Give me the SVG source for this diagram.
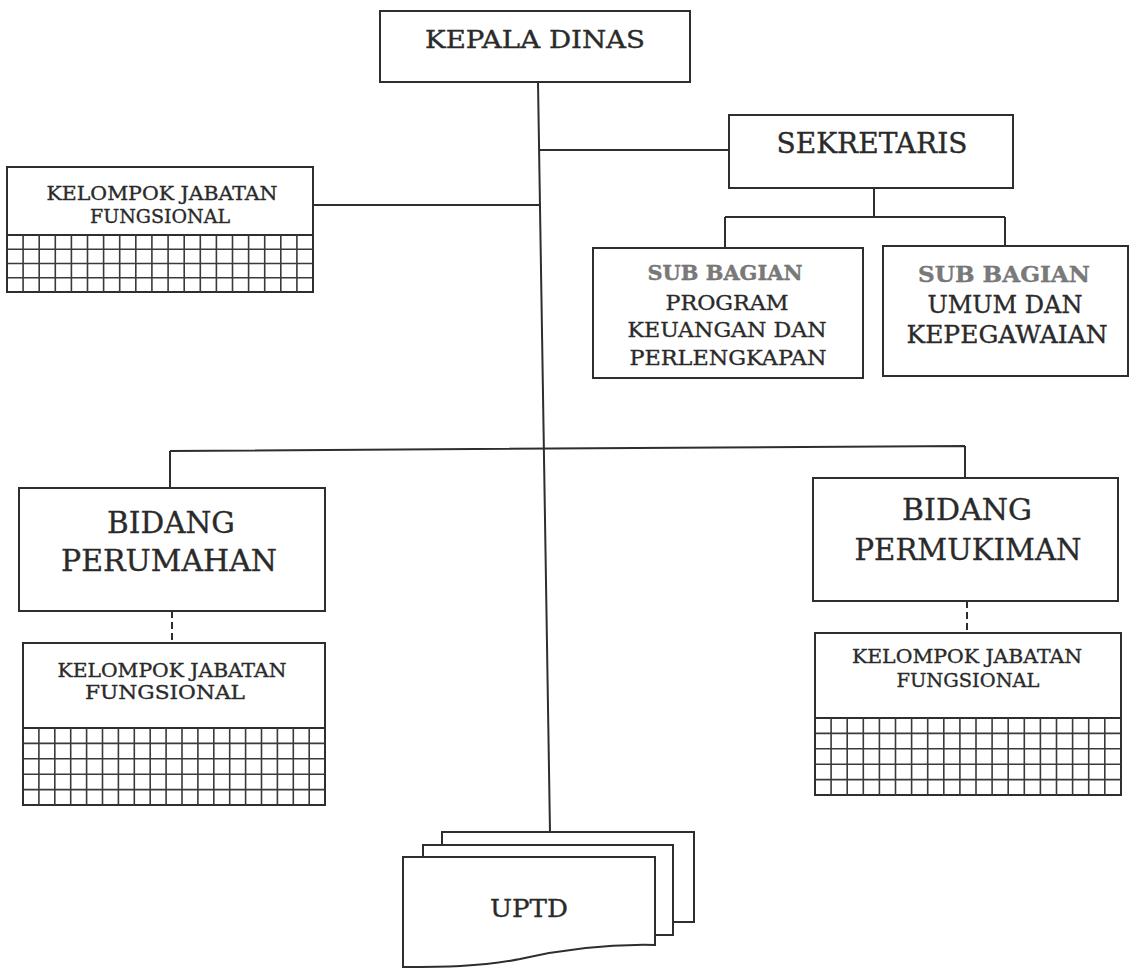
<svg xmlns="http://www.w3.org/2000/svg" width="1131" height="969" viewBox="0 0 1131 969">
<style>
.box{fill:#fff;stroke:#2e2e2e;stroke-width:2}
.ln{fill:none;stroke:#2e2e2e;stroke-width:2}
.dash{fill:none;stroke:#2e2e2e;stroke-width:2;stroke-dasharray:7 4}
.grid{fill:none;stroke:#3a3a3a;stroke-width:1.6}
text{font-family:"DejaVu Serif","Liberation Serif",serif;fill:#2a2a2a;stroke:#2a2a2a;stroke-width:0.35;text-anchor:middle}
.sub{font-weight:bold;fill:#7a7a7a;stroke:#6a6a6a}
</style>
<rect width="1131" height="969" fill="#fff"/>
<g id="connectors">
<path class="ln" d="M538,82 L550,832"/>
<path class="ln" d="M539,150 H729"/>
<path class="ln" d="M874,188 V217 M725,217 H1005 M725,217 V248 M1005,217 V246"/>
<path class="ln" d="M313,205 H541"/>
<path class="ln" d="M170,451 L965,446 M170,451 V488 M965,446 V478"/>
<path class="dash" d="M172,611 V643"/>
<path class="dash" d="M967,601 V633"/>
</g>
<g id="kepala-dinas">
<rect class="box" x="380" y="11" width="310" height="71"/>
<text x="535" y="48" font-size="25" textLength="220" lengthAdjust="spacingAndGlyphs">KEPALA DINAS</text>
</g>
<g id="sekretaris">
<rect class="box" x="729" y="115" width="284" height="73"/>
<text x="872" y="153" font-size="27" textLength="191" lengthAdjust="spacingAndGlyphs">SEKRETARIS</text>
</g>
<g id="subbag-program">
<rect class="box" x="593" y="248" width="270" height="130"/>
<text class="sub" x="725" y="280" font-size="21" textLength="155" lengthAdjust="spacingAndGlyphs">SUB BAGIAN</text>
<text x="727" y="310" font-size="21" textLength="123" lengthAdjust="spacingAndGlyphs">PROGRAM</text>
<text x="727" y="337" font-size="21" textLength="199" lengthAdjust="spacingAndGlyphs">KEUANGAN DAN</text>
<text x="728" y="365" font-size="21" textLength="197" lengthAdjust="spacingAndGlyphs">PERLENGKAPAN</text>
</g>
<g id="subbag-umum">
<rect class="box" x="883" y="246" width="245" height="130"/>
<text class="sub" x="1004" y="282" font-size="23" textLength="172" lengthAdjust="spacingAndGlyphs">SUB BAGIAN</text>
<text x="1005" y="313" font-size="25" textLength="155" lengthAdjust="spacingAndGlyphs">UMUM DAN</text>
<text x="1007" y="343" font-size="24" textLength="201" lengthAdjust="spacingAndGlyphs">KEPEGAWAIAN</text>
</g>
<g id="kjf-top">
<rect class="box" x="7" y="167" width="306" height="125"/>
<path class="ln" d="M7,235 H313"/>
<path class="grid" d="M23.1,235V292M39.2,235V292M55.3,235V292M71.4,235V292M87.5,235V292M103.6,235V292M119.7,235V292M135.8,235V292M151.9,235V292M168.1,235V292M184.2,235V292M200.3,235V292M216.4,235V292M232.5,235V292M248.6,235V292M264.7,235V292M280.8,235V292M296.9,235V292M7,249.25H313M7,263.5H313M7,277.75H313"/>
<text x="162" y="200" font-size="19" textLength="231" lengthAdjust="spacingAndGlyphs">KELOMPOK JABATAN</text>
<text x="160" y="223" font-size="19" textLength="140" lengthAdjust="spacingAndGlyphs">FUNGSIONAL</text>
</g>
<g id="bidang-perumahan">
<rect class="box" x="19" y="488" width="306" height="123"/>
<text x="171" y="533" font-size="30" textLength="128" lengthAdjust="spacingAndGlyphs">BIDANG</text>
<text x="169" y="571" font-size="30" textLength="216" lengthAdjust="spacingAndGlyphs">PERUMAHAN</text>
</g>
<g id="kjf-perumahan">
<rect class="box" x="23" y="643" width="302" height="162"/>
<path class="ln" d="M23,728 H325"/>
<path class="grid" d="M38.9,728V805M54.8,728V805M70.7,728V805M86.6,728V805M102.5,728V805M118.4,728V805M134.3,728V805M150.2,728V805M166.1,728V805M182,728V805M197.9,728V805M213.8,728V805M229.7,728V805M245.6,728V805M261.5,728V805M277.4,728V805M293.3,728V805M309.2,728V805M23,743.4H325M23,758.8H325M23,774.2H325M23,789.6H325"/>
<text x="172" y="677" font-size="19" textLength="229" lengthAdjust="spacingAndGlyphs">KELOMPOK JABATAN</text>
<text x="165" y="699" font-size="19" textLength="160" lengthAdjust="spacingAndGlyphs">FUNGSIONAL</text>
</g>
<g id="bidang-permukiman">
<rect class="box" x="813" y="478" width="305" height="123"/>
<text x="967" y="520" font-size="30" textLength="130" lengthAdjust="spacingAndGlyphs">BIDANG</text>
<text x="968" y="560" font-size="30" textLength="227" lengthAdjust="spacingAndGlyphs">PERMUKIMAN</text>
</g>
<g id="kjf-permukiman">
<rect class="box" x="815" y="633" width="306" height="162"/>
<path class="ln" d="M815,718 H1121"/>
<path class="grid" d="M831.1,718V795M847.2,718V795M863.3,718V795M879.4,718V795M895.5,718V795M911.6,718V795M927.7,718V795M943.8,718V795M959.9,718V795M976,718V795M992.1,718V795M1008.2,718V795M1024.3,718V795M1040.4,718V795M1056.5,718V795M1072.6,718V795M1088.7,718V795M1104.8,718V795M815,733.4H1121M815,748.8H1121M815,764.2H1121M815,779.6H1121"/>
<text x="967" y="663" font-size="19" textLength="230" lengthAdjust="spacingAndGlyphs">KELOMPOK JABATAN</text>
<text x="968" y="687" font-size="19" textLength="143" lengthAdjust="spacingAndGlyphs">FUNGSIONAL</text>
</g>
<g id="uptd">
<rect class="box" x="442" y="832" width="252" height="90"/>
<rect class="box" x="423" y="845" width="250" height="90"/>
<path class="box" d="M403,857 H655 V945 C610,944 560,950 520,959 C480,967 440,967 403,967 Z"/>
<text x="529" y="917" font-size="25" textLength="78" lengthAdjust="spacingAndGlyphs">UPTD</text>
</g>
</svg>
